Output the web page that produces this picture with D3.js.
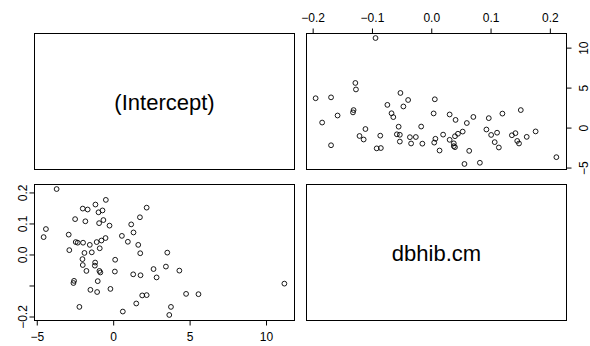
<!DOCTYPE html>
<html>
<head>
<meta charset="utf-8">
<script src="https://cdn.jsdelivr.net/npm/d3@7"></script>
<style>
  body { margin: 0; background: #fff; }
  text { font-family: "Liberation Sans", Arial, sans-serif; fill: #000; }
</style>
</head>
<body>
<div id="chart"></div>
<script>
// pairs() of the coefficient draws: (Intercept) vs dbhib.cm
const varNames = ["(Intercept)", "dbhib.cm"];
const intercept = [
  -0.094, -0.128, -0.127, -0.195, -0.169, -0.131, -0.132, -0.158, -0.184, -0.169,
  -0.111, -0.121, -0.114, -0.086, -0.092, -0.085, -0.074, -0.067, -0.064, -0.052,
  -0.039, -0.047, -0.055, -0.058, -0.053, -0.053, -0.036, -0.026, -0.034, -0.017,
  -0.015, 0.006, 0.004, 0.007, 0.005, 0.014, 0.020, 0.031, 0.041, 0.031,
  0.038, 0.038, 0.040, 0.040, 0.045, 0.053, 0.060, 0.071, 0.064, 0.056,
  0.082, 0.097, 0.093, 0.101, 0.111, 0.107, 0.114, 0.120, 0.136, 0.142,
  0.145, 0.148, 0.151, 0.161, 0.176, 0.211
];
const dbhib = [
  11.2, 5.58, 4.77, 3.67, 3.78, 2.19, 1.90, 1.51, 0.63, -2.21,
  -0.18, -1.05, -1.49, -1.01, -2.60, -2.56, 2.84, 1.79, 1.31, 4.33,
  3.45, 2.64, 0.11, -0.84, -0.90, -1.75, -1.20, -1.18, -1.99, 0.13,
  -2.01, 3.54, 1.77, -1.40, -1.88, -2.87, -0.88, 1.64, 0.96, -1.53,
  -1.97, -2.32, -2.45, -1.08, -0.77, -0.50, 0.57, 1.33, -2.91, -4.55,
  -4.40, 1.18, -0.24, -0.92, -0.64, -1.82, -2.49, 1.75, -0.96, -0.70,
  -1.67, -1.99, 2.19, -1.16, -0.48, -3.70
];
const interceptTicks = [-0.2, -0.1, 0.0, 0.1, 0.2];
const interceptLabels = ["-0.2", "-0.1", "0.0", "0.1", "0.2"];
const interceptLabelsLeft = ["-0.2", "", "0.0", "0.1", "0.2"];   // R drops the overlapping one
const dbhibTicks = [-5, 0, 5, 10];
const dbhibLabels = ["-5", "0", "5", "10"];

const W = 590, H = 346;
const cols = [[34, 294], [306, 566]];
const rows = [[33, 169], [184, 320]];

const svg = d3.select("#chart").append("svg")
  .attr("width", W).attr("height", H);

// R style 4% padding on the data range
function padded(arr) {
  const e = d3.extent(arr), p = (e[1] - e[0]) * 0.04;
  return [e[0] - p, e[1] + p];
}
const domInt = padded(intercept);
const domDbh = padded(dbhib);

const data = intercept.map((v, i) => ({ int: v, dbh: dbhib[i] }));
const fix = s => s.replace("-", "\u2212");

// Draw the four boxes
rows.forEach(r => cols.forEach(c => {
  svg.append("rect")
    .attr("x", c[0] + 0.5).attr("y", r[0] + 0.5)
    .attr("width", c[1] - c[0]).attr("height", r[1] - r[0])
    .attr("fill", "none").attr("stroke", "#000").attr("stroke-width", 1);
}));

// Diagonal labels
[[cols[0], rows[0]], [cols[1], rows[1]]].forEach((p, i) => {
  svg.append("text")
    .attr("x", (p[0][0] + p[0][1]) / 2 + 0.5)
    .attr("y", (p[1][0] + p[1][1]) / 2 + 1)
    .attr("dy", "0.35em")
    .attr("text-anchor", "middle")
    .style("font-size", "22px")
    .text(varNames[i]);
});

// Top-right: x = (Intercept), y = dbhib.cm
let xTR = d3.scaleLinear().domain(domInt).range(cols[1]);
let yTR = d3.scaleLinear().domain(domDbh).range([rows[0][1], rows[0][0]]);
// Bottom-left: x = dbhib.cm, y = (Intercept)
let xBL = d3.scaleLinear().domain(domDbh).range(cols[0]);
let yBL = d3.scaleLinear().domain(domInt).range([rows[1][1], rows[1][0]]);

function points(xs, ys, xKey, yKey) {
  svg.append("g").selectAll("circle")
    .data(data).enter().append("circle")
    .attr("cx", d => xs(d[xKey]))
    .attr("cy", d => ys(d[yKey]))
    .attr("r", 2.4)
    .attr("fill", "none")
    .attr("stroke", "#000")
    .attr("stroke-width", 0.9);
}
points(xTR, yTR, "int", "dbh");
points(xBL, yBL, "dbh", "int");

// Axes (ticks + labels, R style)
function axisTop(scale, ticks, labels, y) {
  let g = svg.append("g")
    .attr("transform", `translate(0,${y + 0.5})`)
    .call(d3.axisTop(scale).tickValues(ticks).tickSize(5)
      .tickFormat((d, i) => fix(labels[i])));
  g.select(".domain").remove();
  g.selectAll("text").attr("y", -16).attr("dy", "0.35em").style("font-size", "12px").style("font-family", null);
  g.selectAll("line").attr("stroke", "#000");
}
function axisBottom(scale, ticks, labels, y) {
  let g = svg.append("g")
    .attr("transform", `translate(0,${y + 0.5})`)
    .call(d3.axisBottom(scale).tickValues(ticks).tickSize(5)
      .tickFormat((d, i) => fix(labels[i])));
  g.select(".domain").remove();
  g.selectAll("text").attr("y", 16).attr("dy", "0.35em").style("font-size", "12px").style("font-family", null);
  g.selectAll("line").attr("stroke", "#000");
}
function axisSide(scale, ticks, labels, x, left) {
  let ax = left ? d3.axisLeft(scale) : d3.axisRight(scale);
  let g = svg.append("g")
    .attr("transform", `translate(${x + 0.5},0)`)
    .call(ax.tickValues(ticks).tickSize(5)
      .tickFormat((d, i) => fix(labels[i])));
  g.select(".domain").remove();
  g.selectAll("line").attr("stroke", "#000");
  const off = left ? -12 : 17;
  g.selectAll("text")
    .attr("x", null).attr("dy", null)
    .attr("text-anchor", "middle")
    .attr("transform", `translate(${off},0) rotate(-90)`)
    .attr("dy", "0.35em")
    .style("font-size", "12px").style("font-family", null);
}

axisTop(xTR, interceptTicks, interceptLabels, rows[0][0]);
axisSide(yTR, dbhibTicks, dbhibLabels, cols[1][1], false);
axisBottom(xBL, dbhibTicks, dbhibLabels, rows[1][1]);
axisSide(yBL, interceptTicks, interceptLabelsLeft, cols[0][0], true);
</script>
</body>
</html>
